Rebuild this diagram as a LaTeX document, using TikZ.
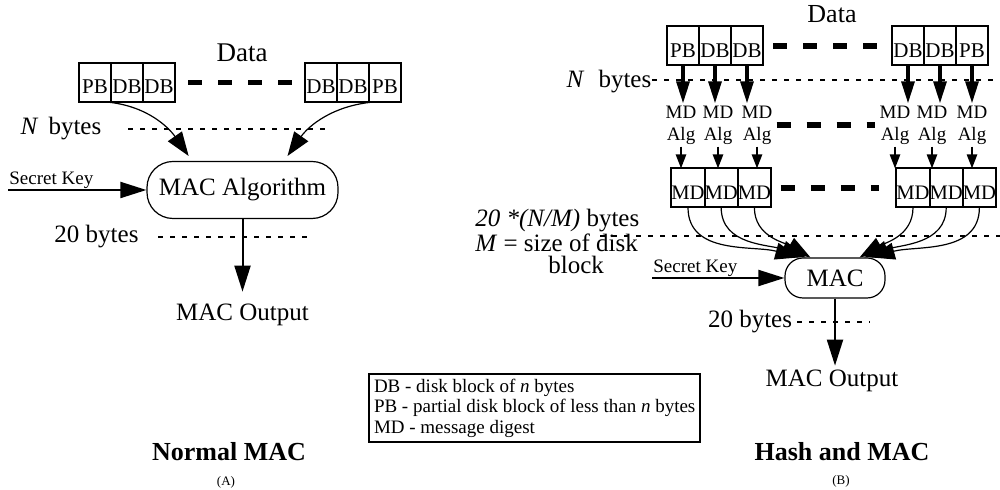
\documentclass[tikz,border=0pt]{standalone}
\usepackage{fontspec}
\setmainfont{Liberation Serif}
\usetikzlibrary{positioning, arrows.meta}

\begin{document}
\begin{tikzpicture}[
    x=0.5pt, y=-0.5pt,
    cell/.style={draw, line width=1pt, minimum width=16pt, minimum height=19.5pt, inner sep=0pt, outer sep=0pt, text height=15.5pt, text depth=4pt, font=\fontsize{10.5}{11}\selectfont},
    mdcell/.style={cell, font=\fontsize{10.3}{11}\selectfont},
    big/.style={inner sep=1pt, font=\fontsize{12.5}{14}\selectfont},
    algtxt/.style={align=center, inner sep=1pt, font=\fontsize{9.5}{11}\selectfont},
    keytxt/.style={anchor=south west, inner sep=0.5pt, font=\fontsize{9.5}{11}\selectfont},
    macbox/.style={draw, line width=0.6pt, font=\fontsize{12.5}{14}\selectfont},
    title/.style={font=\fontsize{13}{15}\selectfont\bfseries},
    tag/.style={font=\fontsize{6.5}{8}\selectfont},
    guide/.style={line width=0.6pt, dash pattern=on 2.5pt off 3.5pt},
    bigdash/.style={line width=2.6pt, dash pattern=on 7pt off 8pt},
    tipL/.style={-{Triangle[length=13pt, width=8pt]}, line width=1pt},
    curve/.style={-{Triangle[length=12pt, width=8.5pt]}, line width=0.6pt},
    tipM/.style={-{Triangle[length=11pt, width=6.5pt]}, line width=1.6pt},
    tipS/.style={-{Triangle[length=7pt, width=5pt]}, line width=1.2pt}
]
\useasboundingbox (0,0) rectangle (1000,490);

% (A) normal MAC
\node[big, font=\fontsize{13.5}{15}\selectfont] (dataA) at (242,53) {Data};
\node[cell] (a1) at (95,82.5) {PB};
\node[cell, right=0pt of a1] (a2) {DB};
\node[cell, right=0pt of a2] (a3) {DB};
\node[cell] (a4) at (321,82.5) {DB};
\node[cell, right=0pt of a4] (a5) {DB};
\node[cell, right=0pt of a5] (a6) {PB};
\draw[bigdash, shorten <=6.5pt, shorten >=6pt] (a3) -- (a4);

\node[big] (bytesA) at (61,129) {\textit{N}\hspace{5pt}bytes};
\draw[guide] (128,129) -- (326,129);

\node[macbox, minimum width=95.5pt, minimum height=28.5pt, rounded corners=13pt] (macA) at (242.5,190) {MAC Algorithm};
\draw[curve, shorten >=3pt] (a1.-60) to[out=-5, in=125] (macA.150);
\draw[curve, shorten >=3pt] (a6.-120) to[out=185, in=55] (macA.35);

\node[keytxt] (keyA) at (8,190) {Secret Key};
\draw[tipL] (keyA.south west) -- (macA.west);

\node[big] (twentyA) at (96.5,237) {20 bytes};
\draw[guide] (158,237) -- (310,237);

\node[big] (outA) at (242.5,315) {MAC Output};
\draw[tipL, shorten >=5pt] (macA.south) -- (outA.north);

\node[title] (nameA) at (229,452) {Normal MAC};
\node[tag] (tagA) at (226,482) {(A)};

% (B) hash and MAC
\node[big, font=\fontsize{13}{15}\selectfont] (dataB) at (832,14) {Data};
\node[cell] (b1) at (683,46) {PB};
\node[cell, right=0pt of b1] (b2) {DB};
\node[cell, right=0pt of b2] (b3) {DB};
\node[cell] (b4) at (908,46) {DB};
\node[cell, right=0pt of b4] (b5) {DB};
\node[cell, right=0pt of b5] (b6) {PB};
\draw[bigdash, shorten <=5pt, shorten >=6pt] (b3) -- (b4);

\node[big] (bytesB) at (609,82) {\textit{N}\hspace{7pt}bytes};
\draw[guide] (652,80) -- (1000,80);

\node[algtxt] (g1) at (681,125) {MD\\Alg};
\node[algtxt] (g2) at (718,125) {MD\\Alg};
\node[algtxt] (g3) at (757,125) {MD\\Alg};
\node[algtxt] (g4) at (895,125) {MD\\Alg};
\node[algtxt] (g5) at (932,125) {MD\\Alg};
\node[algtxt] (g6) at (972,125) {MD\\Alg};
\draw[bigdash, shorten <=1pt, shorten >=1pt] (g3) -- (g4);

\node[mdcell] (m1) at (688,188) {MD};
\node[mdcell, right=0pt of m1] (m2) {MD};
\node[mdcell, right=0pt of m2] (m3) {MD};
\node[mdcell] (m4) at (913,188) {MD};
\node[mdcell, right=0pt of m4] (m5) {MD};
\node[mdcell, right=0pt of m5] (m6) {MD};
\draw[bigdash, shorten <=5pt, shorten >=8.5pt] (m3) -- (m4);

\foreach \i in {1,...,6}{
    \draw[tipM] (b\i.south) -- (b\i.south |- g\i.north);
    \draw[tipS] (g\i.south) -- (g\i.south |- m\i.north);
}

\node[big, align=left, anchor=north west, inner sep=0pt, font=\fontsize{12.5}{11}\selectfont] (sizeB) at (475,209)
    {\textit{20 *(N/M)} bytes\\\textit{M} = size of disk\\\hspace*{36.5pt}block};
\draw[guide] (600,236) -- (1000,236);

\node[macbox, minimum width=50pt, minimum height=20pt, rounded corners=9pt] (macB) at (835,278) {MAC};
\draw[curve] (m1.south) to[out=-90, in=165] (macB.150);
\draw[curve] (m2.south) to[out=-90, in=160] (macB.145);
\draw[curve] (m3.south) to[out=-90, in=150] (macB.140);
\draw[curve] (m4.south) to[out=-90, in=30] (macB.40);
\draw[curve] (m5.south) to[out=-90, in=20] (macB.35);
\draw[curve] (m6.south) to[out=-90, in=15] (macB.30);

\node[keytxt] (keyB) at (652,278) {Secret Key};
\draw[tipL] (keyB.south west) -- (macB.west);

\node[big] (twentyB) at (750,322) {20 bytes};
\draw[guide] (797,322) -- (870,322);

\node[big] (outB) at (832,381) {MAC Output};
\draw[tipL, shorten >=1pt] (macB.south) -- (macB.south |- outB.north);

\node[draw, line width=1pt, align=left, anchor=north west, inner sep=2.5pt, font=\fontsize{9.5}{10.2}\selectfont] (legend) at (368,373)
    {DB - disk block of \textit{n} bytes\\PB - partial disk block of less than \textit{n} bytes\\MD - message digest};

\node[title] (nameB) at (842,452) {Hash and MAC};
\node[tag] (tagB) at (841,481) {(B)};
\end{tikzpicture}
\end{document}
